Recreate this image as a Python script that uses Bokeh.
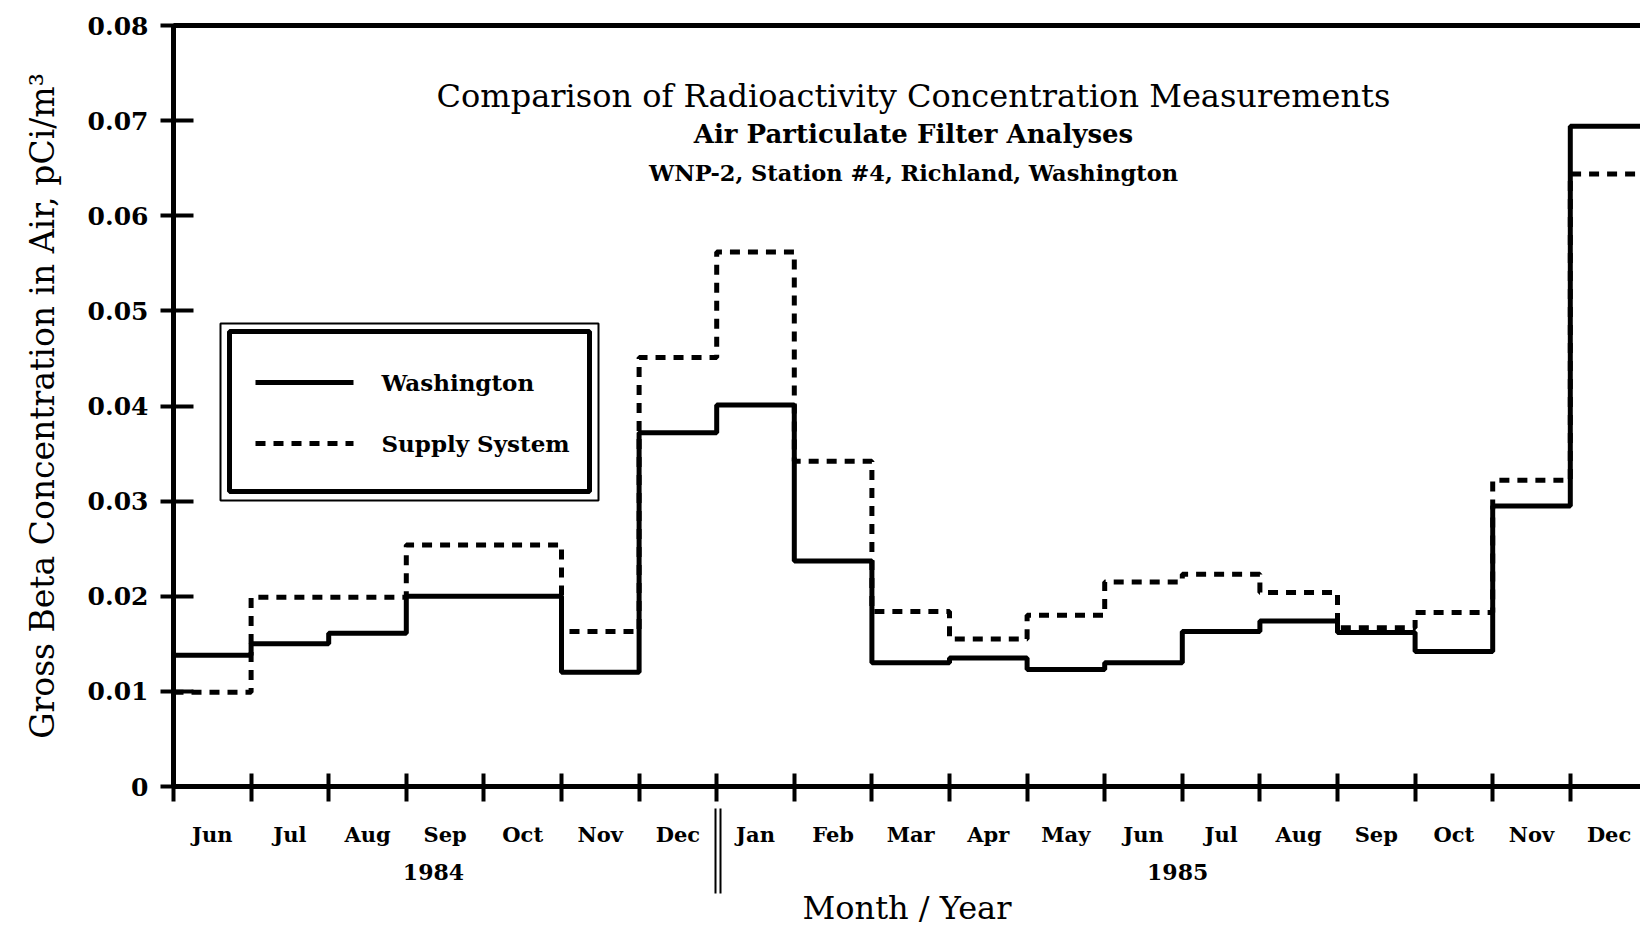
from bokeh.plotting import figure
from bokeh.models import (Range1d, FixedTicker, LinearAxis, BoxAnnotation, Label,
                          CustomJSTickFormatter)
from bokeh.embed import file_html
from bokeh.resources import INLINE

# ---------------- data ----------------
months = ["Jun", "Jul", "Aug", "Sep", "Oct", "Nov", "Dec",
          "Jan", "Feb", "Mar", "Apr", "May", "Jun", "Jul", "Aug", "Sep", "Oct", "Nov", "Dec"]
years = ["1984", "1985"]
washington = [0.0138, 0.0150, 0.0161, 0.0200, 0.0200, 0.0120, 0.0372,
              0.0401, 0.0237, 0.0130, 0.0135, 0.0123, 0.0130, 0.0163, 0.0174, 0.0162, 0.0142, 0.0295, 0.0694]
supply_system = [0.0099, 0.0199, 0.0199, 0.0254, 0.0254, 0.0163, 0.0451,
                 0.0562, 0.0342, 0.0184, 0.0155, 0.0180, 0.0215, 0.0223, 0.0204, 0.0167, 0.0183, 0.0322, 0.0644]
y_ticks = [0, 0.01, 0.02, 0.03, 0.04, 0.05, 0.06, 0.07, 0.08]
series_names = ["Washington", "Supply System"]
title_lines = ["Comparison of Radioactivity Concentration Measurements",
               "Air Particulate Filter Analyses",
               "WNP-2, Station #4, Richland, Washington"]

FONT = "DejaVu Serif"
W, H = 1640, 929
X0, Y0, YTOP = 173, 786, 25          # pixel position of the plot origin / top
PX_X = 77.6                          # pixels per month
PX_Y = (Y0 - YTOP) / y_ticks[-1]     # pixels per unit

p = figure(width=W, height=H, output_backend="svg", toolbar_location=None,
           x_range=Range1d(0, (W - X0) / PX_X), y_range=Range1d(0, y_ticks[-1]),
           min_border_left=X0, min_border_right=0, min_border_top=YTOP,
           min_border_bottom=H - Y0)
p.outline_line_color = None
p.grid.visible = False

# ---- month axis: labels centred on months, boundary ticks as minor ticks ----
n = len(months)
xa = p.xaxis[0]
xa.ticker = FixedTicker(ticks=[i + 0.5 for i in range(n)], minor_ticks=list(range(n)))
xa.formatter = CustomJSTickFormatter(
    args=dict(labels=months), code="return labels[Math.floor(tick)];")
xa.axis_line_width = 5
xa.major_tick_line_color = None
xa.major_tick_in = 0
xa.major_tick_out = 0
xa.minor_tick_line_color = "black"
xa.minor_tick_line_width = 4
xa.minor_tick_in = 13
xa.minor_tick_out = 15
xa.major_label_text_font = FONT
xa.major_label_text_font_style = "bold"
xa.major_label_text_font_size = "21px"
xa.major_label_text_color = "black"
xa.major_label_standoff = 20

# ---- year axis (second row below), with double separator as minor ticks ----
year_pos = [3.35, 12.94]
sep_x = months.index("Jan")
yr = LinearAxis(ticker=FixedTicker(ticks=year_pos, minor_ticks=[sep_x - 0.02, sep_x + 0.045]),
                major_label_overrides={yp: yt for yp, yt in zip(year_pos, years)},
                axis_line_color=None, major_tick_line_color=None,
                major_tick_in=0, major_tick_out=0,
                minor_tick_line_color="black", minor_tick_line_width=2,
                minor_tick_in=41, minor_tick_out=44,
                major_label_text_font=FONT, major_label_text_font_style="bold",
                major_label_text_font_size="22px", major_label_text_color="black",
                major_label_standoff=-30,
                axis_label="Month / Year", axis_label_text_font=FONT,
                axis_label_text_font_style="normal", axis_label_text_font_size="32px",
                axis_label_text_color="black", axis_label_standoff=6)
p.add_layout(yr, "below")

# ---- y axis ----
ya = p.yaxis[0]
ya.ticker = FixedTicker(ticks=y_ticks)
ya.formatter = CustomJSTickFormatter(code="return tick == 0 ? '0' : tick.toFixed(2);")
ya.axis_line_width = 5
ya.major_tick_line_width = 4
ya.major_tick_in = 20
ya.major_tick_out = 13
ya.minor_tick_line_color = None
ya.major_label_text_font = FONT
ya.major_label_text_font_style = "bold"
ya.major_label_text_font_size = "25px"
ya.major_label_text_color = "black"
ya.major_label_standoff = 12
ya.axis_label = "Gross Beta Concentration in Air, pCi/m³"
ya.axis_label_text_font = FONT
ya.axis_label_text_font_style = "normal"
ya.axis_label_text_font_size = "33px"
ya.axis_label_text_color = "black"
ya.axis_label_standoff = 23

# top border
top = LinearAxis(ticker=FixedTicker(ticks=[]), axis_line_width=5,
                 major_tick_line_color=None, minor_tick_line_color=None)
p.add_layout(top, "above")

# ---------------- series ----------------
edges = list(range(n + 1))
p.step(edges, washington + washington[-1:], mode="after", line_width=5, line_color="black")
p.step(edges, supply_system + supply_system[-1:], mode="after", line_width=5,
       line_color="black", line_dash="10 8")

# ---------------- titles ----------------
def dx_(px):
    return (px - X0) / PX_X

def dy_(py):
    return (Y0 - py) / PX_Y

title_py = [95, 133, 172]
title_sz = ["32px", "26px", "22.5px"]
title_st = ["normal", "bold", "bold"]
for t, py, ts, st in zip(title_lines, title_py, title_sz, title_st):
    p.add_layout(Label(x=dx_(913), y=dy_(py), text=t, text_align="center", text_baseline="middle",
                       text_font=FONT, text_font_size=ts, text_font_style=st, text_color="black"))

# ---------------- legend (double-bordered box) ----------------
p.add_layout(BoxAnnotation(left=dx_(220), right=dx_(598), top=dy_(323), bottom=dy_(500),
                           fill_color="white", fill_alpha=1, line_color="black", line_alpha=1,
                           line_width=2, level="underlay"))
p.add_layout(BoxAnnotation(left=dx_(229), right=dx_(589), top=dy_(331), bottom=dy_(491),
                           fill_color=None, line_color="black", line_alpha=1, line_width=5))
p.line([dx_(255), dx_(353)], [dy_(382), dy_(382)], line_width=5, line_color="black")
p.line([dx_(255), dx_(353)], [dy_(443), dy_(443)], line_width=5, line_color="black",
       line_dash="10 8")
for name, py in zip(series_names, (382, 443)):
    p.add_layout(Label(x=dx_(381), y=dy_(py), text=name, text_align="left", text_baseline="middle",
                       text_font=FONT, text_font_style="bold", text_font_size="23px",
                       text_color="black"))

open("out.html", "w").write(file_html(p, INLINE))
